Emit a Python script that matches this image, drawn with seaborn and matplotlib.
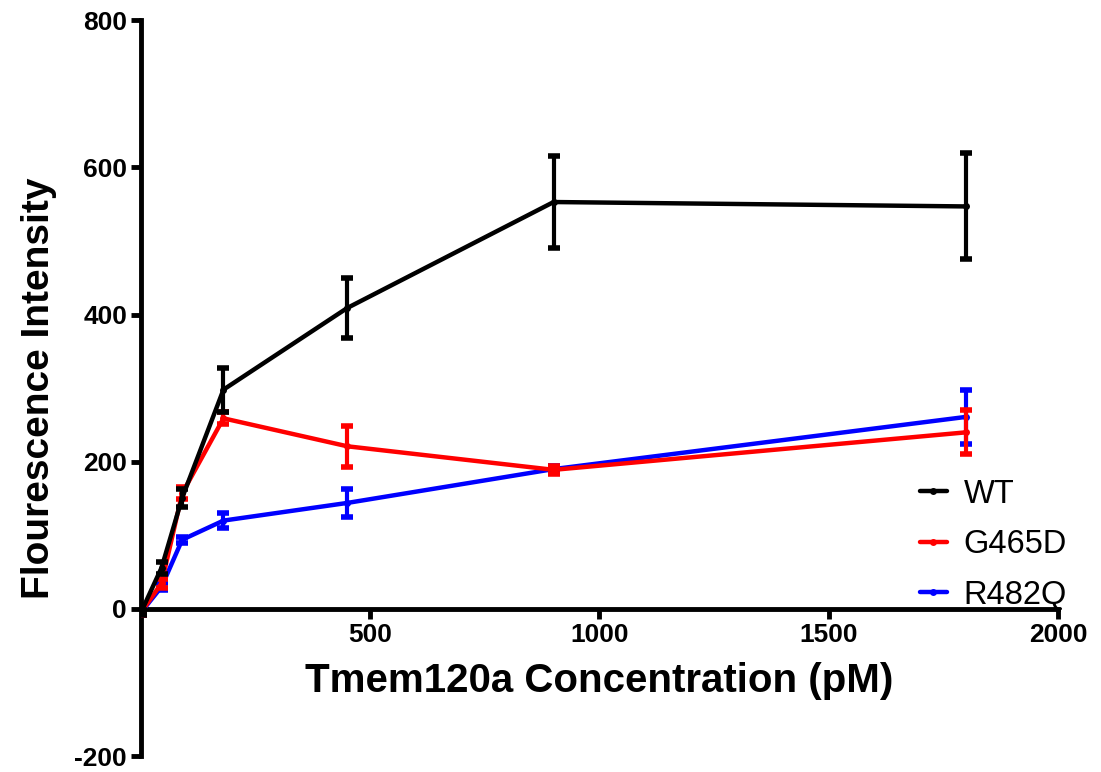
import numpy as np
import pandas as pd
import seaborn as sns
import matplotlib.pyplot as plt

# Tmem120a concentrations (pM)
conc = [0, 45, 90, 180, 450, 900, 1800]

# mean fluorescence and error for each variant
wt_mean = [-5, 56, 151, 298, 409, 553, 547]
wt_err = [3, 8, 12, 30, 41, 63, 72]
g465d_mean = [-5, 35, 157, 259, 221, 189, 240]
g465d_err = [3, 6, 8, 8, 28, 5, 30]
r482q_mean = [-5, 30, 94, 120, 144, 190, 261]
r482q_err = [3, 5, 4, 10, 19, 4, 37]

variants = ["WT", "G465D", "R482Q"]
colors = {"WT": "black", "G465D": "#ff0000", "R482Q": "#0000ff"}

df = pd.concat([
    pd.DataFrame({"conc": conc, "mean": m, "err": e, "variant": v})
    for v, m, e in zip(variants,
                       [wt_mean, g465d_mean, r482q_mean],
                       [wt_err, g465d_err, r482q_err])
])

sns.set_theme(style="white")
plt.rcParams["font.family"] = ["Liberation Sans", "DejaVu Sans"]
plt.rcParams["axes.unicode_minus"] = False
plt.rcParams["text.color"] = "black"
plt.rcParams["axes.labelcolor"] = "black"
plt.rcParams["xtick.color"] = "black"
plt.rcParams["ytick.color"] = "black"

fig = plt.figure(figsize=(11.01, 7.72), dpi=100)
ax = fig.add_axes([0.128, 0.0207, 0.833, 0.953])

# draw in reverse so WT ends up on top
for z, v in enumerate(reversed(variants)):
    sub = df[df["variant"] == v]
    sns.lineplot(data=sub, x="conc", y="mean", color=colors[v], ax=ax,
                 linewidth=3.2, marker="o", markersize=5, markeredgewidth=0,
                 label=v, zorder=3 + z)
    ax.errorbar(sub["conc"], sub["mean"], yerr=sub["err"], fmt="none",
                ecolor=colors[v], elinewidth=3, capsize=4, capthick=4,
                zorder=3 + z)

ax.set_xlim(0, 2000)
ax.set_ylim(-200, 800)
ax.set_xticks([500, 1000, 1500, 2000])
ax.set_yticks([-200, 0, 200, 400, 600, 800])

ax.spines["bottom"].set_position(("data", 0))
ax.spines["top"].set_visible(False)
ax.spines["right"].set_visible(False)
for s in ["left", "bottom"]:
    ax.spines[s].set_linewidth(3.5)
    ax.spines[s].set_color("black")

ax.tick_params(axis="both", direction="out", length=7, width=3.5,
               color="black", labelcolor="black", labelsize=19, pad=3)
ax.tick_params(axis="x", bottom=True)
ax.tick_params(axis="y", left=True)
for lab in ax.get_xticklabels() + ax.get_yticklabels():
    lab.set_fontweight("bold")

ax.set_xlabel("Tmem120a Concentration (pM)", fontsize=29, fontweight="bold")
ax.set_ylabel("Flourescence Intensity", fontsize=28, fontweight="bold")
ax.xaxis.set_label_coords(0.5, 0.128)
ax.yaxis.set_label_coords(-0.092, 0.5)

handles, labels = ax.get_legend_handles_labels()
order = [labels.index(v) for v in variants]
leg = ax.legend([handles[i] for i in order], [labels[i] for i in order],
                frameon=False, fontsize=23.5, handlelength=0.85,
                handletextpad=0.5, labelspacing=0.6, loc="upper left",
                bbox_to_anchor=(0.817, 0.417))
for t in leg.get_texts():
    t.set_color("black")

fig.savefig("out.png", dpi=100)
